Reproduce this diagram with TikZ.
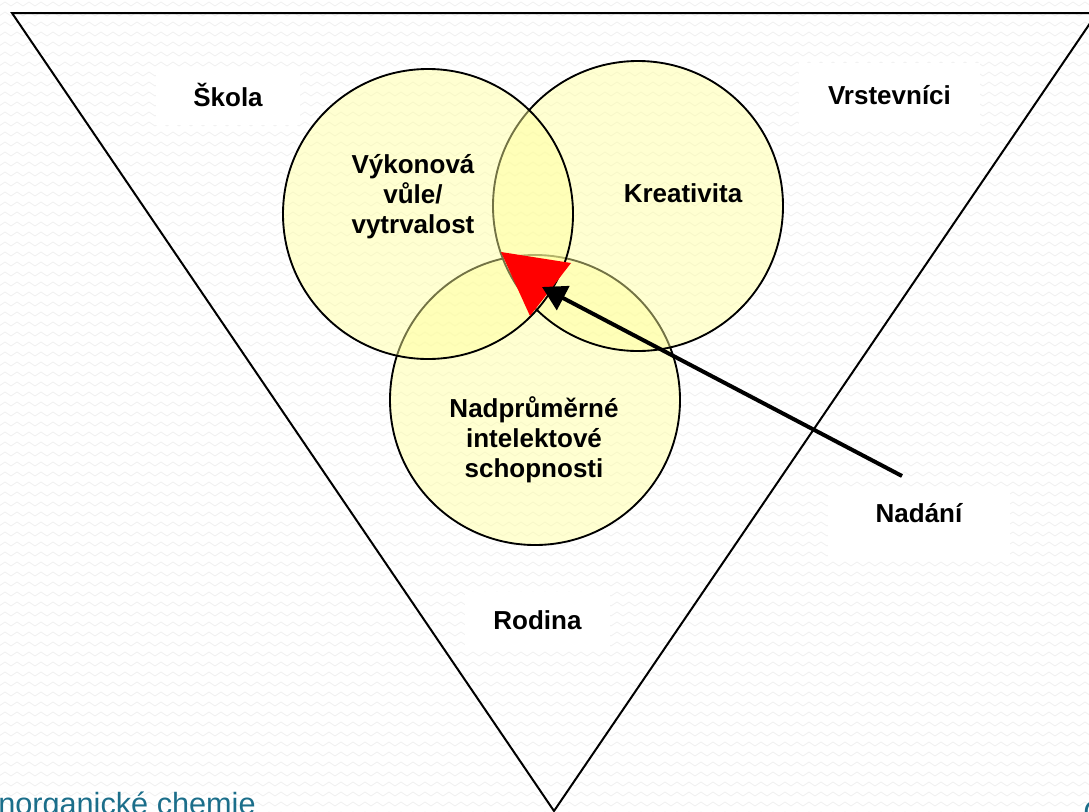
\documentclass[tikz,border=0pt]{standalone}
\usepackage{fontspec}
\setmainfont{Liberation Sans}
\usetikzlibrary{arrows.meta,decorations.pathmorphing}
\definecolor{kruh}{HTML}{FFFF99}
\definecolor{patka}{HTML}{1B6E8A}
\begin{document}
\begin{tikzpicture}
		[x=0.75pt,y=-0.75pt,
		ring/.style={circle,draw=black,line width=1.4pt,
			fill=kruh,fill opacity=0.45,draw opacity=1,
			minimum size=217.5pt,inner sep=0pt},
		tag/.style={fill=white,inner sep=0pt,
			font=\bfseries\fontsize{19.5}{22.5}\selectfont,
			text height=14pt,text depth=0pt},
		word/.style={align=center,
			font=\bfseries\fontsize{19.5}{22.5}\selectfont},
		wave/.style={draw=black!6,line width=0.6pt,decorate,
			decoration={zigzag,segment length=9pt,amplitude=1.5pt}}]
	\useasboundingbox (0,0) rectangle (1089,811);
	\clip (0,0) rectangle (1089,811);
	\foreach \y in {4,14,...,814}
		\draw[wave] (-10,\y) -- (1100,\y);
	\draw[line width=1.5pt] (12,13) -- (1097,13) -- (554,811) -- cycle;
	\node[ring] (intelekt) at (535,400) {};
	\node[ring] (kreativ) at (638,206) {};
	\node[ring] (vule) at (428,214) {};
	\node[word] (vykon) at (413,197) {Výkonová\\vůle/\\vytrvalost};
	\node[word] (kreat) at (683,193) {Kreativita};
	\node[word] (intel) at (534,440) {Nadprůměrné\\intelektové\\schopnosti};
	\node[tag,minimum width=108pt,minimum height=41.25pt] (skola) at (228,97.5) {Škola};
	\node[tag,minimum width=135.75pt,minimum height=48.75pt] (vrstevnici) at (889.5,95.5) {Vrstevníci};
	\node[tag,minimum width=108.75pt,minimum height=42pt] (rodina) at (537.5,620) {Rodina};
	\node[tag,minimum width=136.5pt,minimum height=53.25pt,text depth=14.2pt] (nadani) at (919,522.5) {Nadání};
	\fill[red] (501,252) -- (571,263) -- (530,316) -- cycle;
	\coordinate (ocas) at (902,476);
	\coordinate (hrot) at (542,287);
	\draw[line width=3pt,-{Triangle[length=18pt,width=20pt]}] (ocas) -- (hrot);
	\node[anchor=base west,inner sep=0pt,text=patka,font=\fontsize{23}{27}\selectfont] (katedra) at (-2,814) {norganické chemie};
	\node[anchor=base west,inner sep=0pt,text=patka,font=\fontsize{23}{27}\selectfont] (strana) at (1083,822) {C};
\end{tikzpicture}
\end{document}
